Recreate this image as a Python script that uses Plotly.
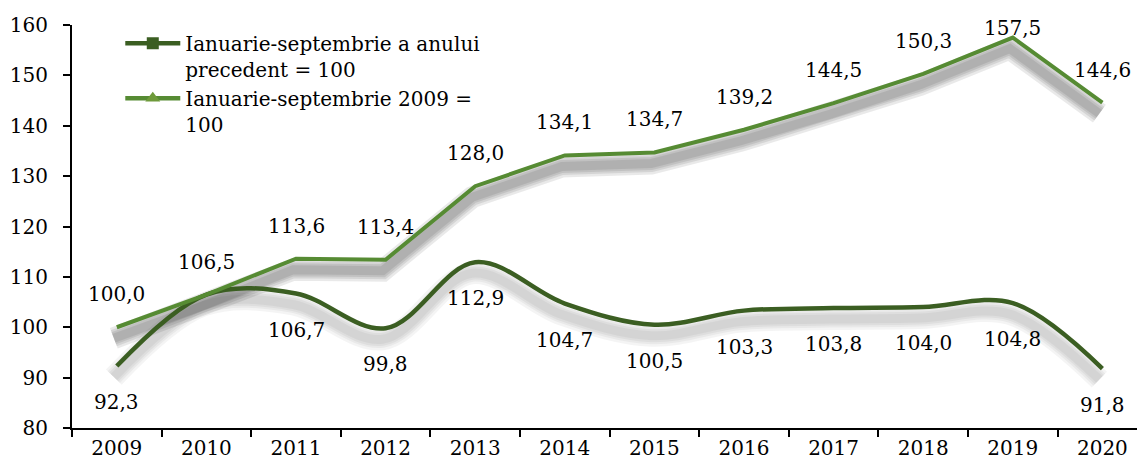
import plotly.graph_objects as go

years = ["2009", "2010", "2011", "2012", "2013", "2014", "2015", "2016", "2017", "2018", "2019", "2020"]
prev_year = [92.3, 106.5, 106.7, 99.8, 112.9, 104.7, 100.5, 103.3, 103.8, 104.0, 104.8, 91.8]
base_2009 = [100.0, 106.5, 113.6, 113.4, 128.0, 134.1, 134.7, 139.2, 144.5, 150.3, 157.5, 144.6]
name_prev = "Ianuarie-septembrie a anului<br>precedent = 100"
name_base = "Ianuarie-septembrie 2009 =<br>100"
y_ticks = [80, 90, 100, 110, 120, 130, 140, 150, 160]

# styling
FONT = "DejaVu Serif"
FS = 20
DARK = "#3B5E22"
LIGHT = "#568B33"
base_shift_px = [33, 33, 33, 33, 33, 33, 33, 33, 33, 33, 10, 33]
prev_shift_px = -36

# the page body adds an 8px margin around the figure
W, H = 1145 - 8, 469 - 8
ML, MT = 72 - 8, 25 - 8
plot_w = W - ML
plot_h = 403
MB = H - MT - plot_h

x_lo = -0.5
px_per_cat = 89.6
x_hi = x_lo + plot_w / px_per_cat
y_lo, y_hi = 80, 160
px_per_unit = plot_h / (y_hi - y_lo)
sh_dx = 3 / px_per_cat      # shadow shifted left
sh_dy = 11 / px_per_unit    # shadow shifted down


def fmt(v):
    return f"{v:.1f}".replace(".", ",")


fig = go.Figure()

# shadows (base axes, hidden, shifted range)
for vals, alpha, spline in [(prev_year, 0.045, True), (base_2009, 0.085, False)]:
    for w in (22, 17, 13, 9):
        fig.add_trace(go.Scatter(
            x=years, y=vals, mode="lines", xaxis="x", yaxis="y",
            line=dict(color=f"rgba(0,0,0,{alpha})", width=w,
                      shape="spline" if spline else "linear", smoothing=1.0),
            showlegend=False, hoverinfo="skip"))

# main lines
fig.add_trace(go.Scatter(
    x=years, y=prev_year, mode="lines", xaxis="x2", yaxis="y2",
    line=dict(color=DARK, width=4.5, shape="spline", smoothing=1.0),
    showlegend=False, name=name_prev))
fig.add_trace(go.Scatter(
    x=years, y=base_2009, mode="lines", xaxis="x2", yaxis="y2",
    line=dict(color=LIGHT, width=4),
    showlegend=False, name=name_base))

# legend entries
fig.add_trace(go.Scatter(
    x=[None], y=[None], mode="lines+markers", xaxis="x2", yaxis="y2",
    line=dict(color=DARK, width=4.5), marker=dict(symbol="square", size=12, color=DARK),
    name=name_prev))
fig.add_trace(go.Scatter(
    x=[None], y=[None], mode="lines+markers", xaxis="x2", yaxis="y2",
    line=dict(color=LIGHT, width=4.5),
    marker=dict(symbol="triangle-up", size=13, color="#6E9A3A"),
    name=name_base))

annotations = []
for i, v in enumerate(base_2009):
    annotations.append(dict(x=i, y=v, xref="x2", yref="y2", text=fmt(v), showarrow=False,
                            yshift=base_shift_px[i], font=dict(family=FONT, size=FS, color="black")))
for i, v in enumerate(prev_year):
    if v == base_2009[i]:
        continue
    annotations.append(dict(x=i, y=v, xref="x2", yref="y2", text=fmt(v), showarrow=False,
                            yshift=prev_shift_px, font=dict(family=FONT, size=FS, color="black")))

fig.update_layout(
    width=W, height=H,
    margin=dict(l=ML, r=0, t=MT, b=MB, autoexpand=False),
    paper_bgcolor="white", plot_bgcolor="white",
    font=dict(family=FONT, size=FS, color="black"),
    xaxis=dict(type="category", categoryorder="array", categoryarray=years,
               range=[x_lo + sh_dx, x_hi + sh_dx], visible=False, fixedrange=True,
               automargin=False),
    yaxis=dict(range=[y_lo + sh_dy, y_hi + sh_dy], visible=False, fixedrange=True,
               automargin=False),
    xaxis2=dict(type="category", categoryorder="array", categoryarray=years,
                overlaying="x", side="bottom", anchor="y2", automargin=False,
                range=[x_lo, x_hi], tickson="boundaries", ticks="outside",
                ticklen=7, tickwidth=1.5, tickcolor="black",
                showline=True, linecolor="black", linewidth=2, showgrid=False,
                tickfont=dict(family=FONT, size=FS, color="black"),
                ticklabelstandoff=1),
    yaxis2=dict(overlaying="y", side="left", anchor="x2", automargin=False,
                range=[y_lo, y_hi], tickvals=y_ticks, ticks="outside",
                ticklen=7, tickwidth=1.5, tickcolor="black",
                showline=True, linecolor="black", linewidth=2, showgrid=False,
                zeroline=False,
                tickfont=dict(family=FONT, size=FS, color="black"),
                ticklabelstandoff=11),
    legend=dict(x=0.045, y=1.003, xanchor="left", yanchor="top",
                bgcolor="rgba(0,0,0,0)", valign="top", itemwidth=55,
                tracegroupgap=0, font=dict(family=FONT, size=FS, color="black")),
    annotations=annotations,
    showlegend=True,
)

fig.write_html("out.html")
